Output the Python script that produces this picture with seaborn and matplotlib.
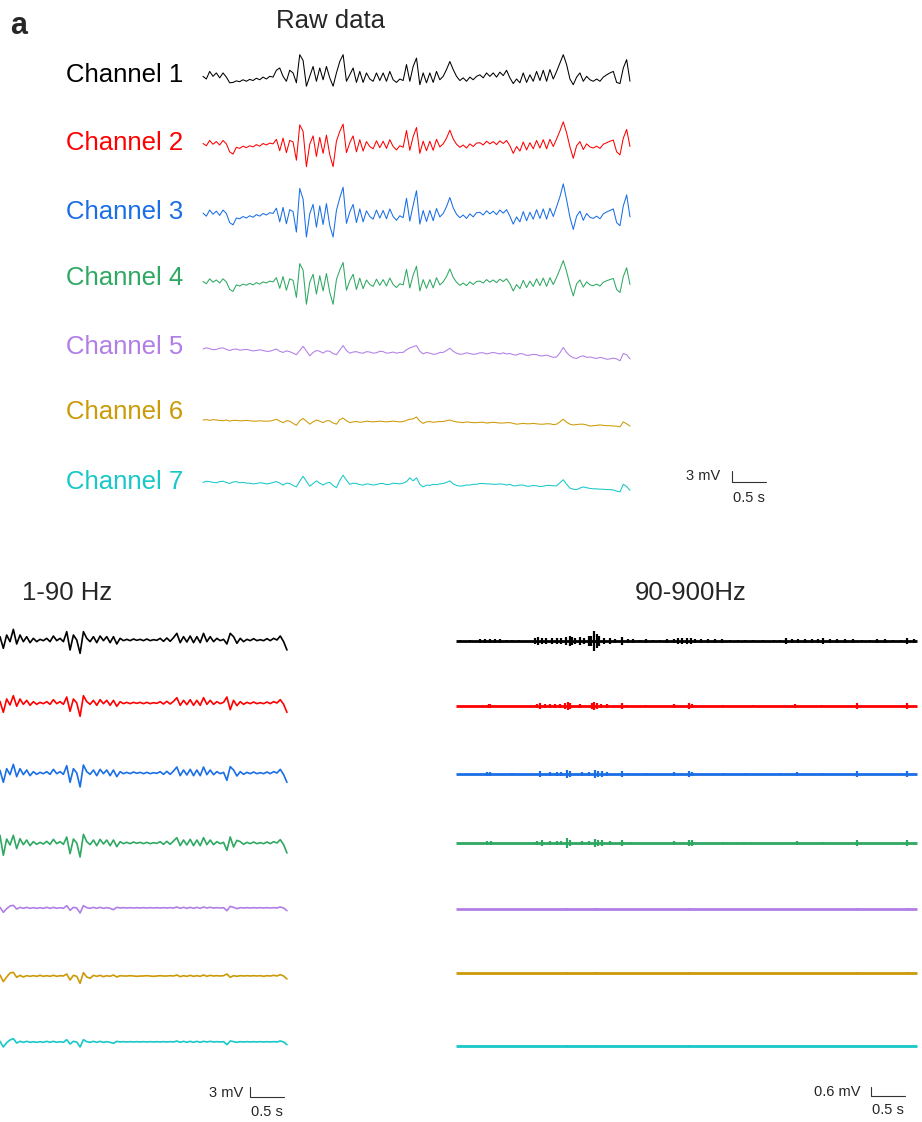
import matplotlib
matplotlib.use("Agg")
import matplotlib.pyplot as plt
import seaborn as sns
import numpy as np
import pandas as pd

W, H = 922, 1122

channels = ["Channel 1", "Channel 2", "Channel 3", "Channel 4",
            "Channel 5", "Channel 6", "Channel 7"]
colors = ["#000000", "#ff0000", "#1a6ee6", "#2ea862",
          "#b07ee6", "#cc9a06", "#18c8c8"]

# ---- raw data (mV), evenly sampled over the record ----
raw_duration = 6.27
raw_ch1 = [0.7, 0, 2.0, 0.7, 1.6, 0.3, 1.6, 0.5, -1.0, -0.9,
           -0.5, -0.7, -0.2, -0.6, -0.1, -0.4, 0.2, -0.2, 0.5, 0,
           0.7, 0.5, 2.3, 2.9, 0.7, -0.6, 2.3, 1.6, -1.0, 6.4,
           4.9, -1.9, 0.7, 3.3, -0.6, 2.9, -0.2, 3.3, 0.3, -1.9,
           1.6, 4.6, 6.4, -0.6, 1.1, 2.9, -0.9, 2.0, -0.9, 1.6,
           0, -0.6, 1.6, -0.4, 1.6, -0.6, 2.0, -0.2, -0.9, 0,
           -0.4, 3.8, -0.6, 3.3, 5.5, -1.5, 1.6, -1.0, 1.6, -0.9,
           2.0, -0.2, 0.7, 2.5, 4.6, 2.5, 0.7, -0.4, 0.3, -0.6,
           0.5, -0.2, 0.7, 1.1, 0.3, 1.6, 0.7, 1.6, 0.5, 1.8,
           0.9, 2.3, 0.3, -1.2, 0, -1.0, 1.6, -0.9, 1.1, -0.6,
           2.0, -0.4, 2.3, -0.6, 2.5, 0, 2.0, 4.2, 6.4, 3.8,
           0, -1.5, 0.5, 1.6, -0.6, 0.7, -0.2, -0.6, 0, -0.6,
           0.5, 1.1, 1.6, 2.0, -0.9, -1.2, 2.9, 5.1, -0.6]
raw_ch2 = [0.4, -0.2, 1.2, 0.2, 0.9, 0, 1.2, 0.3, -1.8, -2.4,
           -0.6, -0.9, -0.3, -0.7, -0.2, -0.5, 0.1, -0.3, 0.4, 0,
           0.5, 0.3, 1.5, -1.5, 1.8, -2.0, 1.2, 0.8, -4.0, 5.3,
           3.6, -5.7, 0.2, 2.4, -3.0, 2.0, -2.2, 2.6, -2.6, -5.7,
           1.0, 3.6, 5.5, -2.0, 0.6, 2.4, -1.8, 1.4, -1.6, 0.9,
           -0.4, -1.0, 1.1, -0.7, 1.0, -0.9, 1.4, -0.4, -1.3, -0.2,
           -0.6, 3.8, -1.4, 2.2, 4.6, -2.2, 1.0, -1.5, 1.0, -1.4,
           1.5, -0.5, 0.3, 1.8, 3.9, 1.6, 0.2, -0.6, 0, -0.8,
           0.3, -0.4, 0.5, 0.6, 0, 1.0, 0.3, 0.9, 0.1, 1.1,
           0.4, 1.2, -0.2, -2.2, -0.4, -1.6, 0.8, -1.3, 0.6, -1.0,
           1.2, -0.8, 1.4, -1.0, 1.5, -0.4, 1.6, 3.7, 6.1, 3.2,
           -0.5, -3.5, -0.2, 0.9, -1.2, 0.3, -0.5, -0.8, -0.3, -0.9,
           0.2, 0.6, 1.0, 1.3, -1.8, -2.6, 1.8, 4.1, -0.4]
raw_ch3 = [0.5, -0.3, 1.3, 0.2, 1.0, -0.1, 1.3, 0.4, -2.0, -2.6,
           -0.8, -1.0, -0.4, -0.8, -0.2, -0.6, 0.1, -0.3, 0.4, 0,
           0.6, 0.4, 1.8, -1.8, 2.0, -2.3, 1.4, 0.9, -4.5, 7.0,
           4.2, -5.8, 0.3, 2.8, -3.2, 2.4, -2.5, 3.0, -2.8, -5.8,
           1.2, 4.5, 7.3, -2.2, 0.8, 2.8, -2.0, 1.6, -1.8, 1.1,
           -0.4, -1.1, 1.3, -0.8, 1.2, -1.0, 1.6, -0.4, -1.4, -0.2,
           -0.7, 4.4, -1.6, 2.6, 6.4, -2.4, 1.2, -1.7, 1.2, -1.5,
           1.7, -0.5, 0.4, 2.2, 4.6, 1.9, 0.2, -0.7, 0, -0.9,
           0.3, -0.5, 0.6, 0.7, 0, 1.1, 0.3, 1.0, 0.1, 1.3,
           0.5, 1.4, -0.3, -2.4, -0.5, -1.8, 0.9, -1.5, 0.7, -1.1,
           1.4, -0.9, 1.6, -1.1, 1.8, -0.4, 2.2, 4.8, 8.2, 4.0,
           -0.6, -3.8, -0.3, 1.0, -1.4, 0.4, -0.6, -0.9, -0.3, -1.0,
           0.3, 0.8, 1.2, 1.6, -2.0, -2.8, 2.4, 5.3, -0.5]
raw_ch4 = [0.4, -0.2, 1.1, 0.2, 0.8, 0, 1.1, 0.3, -1.7, -2.2,
           -0.5, -0.8, -0.3, -0.6, -0.1, -0.5, 0.1, -0.3, 0.3, 0,
           0.5, 0.3, 1.4, -1.4, 1.7, -1.9, 1.1, 0.7, -3.8, 5.1,
           3.4, -5.6, 0.2, 2.3, -2.9, 1.9, -2.1, 2.5, -2.5, -5.6,
           0.9, 3.4, 5.4, -1.9, 0.6, 2.3, -1.7, 1.3, -1.5, 0.8,
           -0.4, -0.9, 1.0, -0.6, 0.9, -0.8, 1.3, -0.4, -1.2, -0.2,
           -0.5, 3.6, -1.3, 2.1, 4.4, -2.1, 0.9, -1.4, 0.9, -1.3,
           1.4, -0.5, 0.3, 1.7, 3.7, 1.5, 0.2, -0.6, 0, -0.7,
           0.3, -0.4, 0.4, 0.5, 0, 0.9, 0.2, 0.8, 0.1, 1.0,
           0.4, 1.1, -0.2, -2.1, -0.4, -1.5, 0.7, -1.2, 0.5, -0.9,
           1.1, -0.7, 1.3, -0.9, 1.4, -0.4, 1.5, 3.6, 5.9, 3.0,
           -0.5, -3.4, -0.2, 0.8, -1.1, 0.3, -0.5, -0.7, -0.3, -0.8,
           0.2, 0.6, 0.9, 1.2, -1.7, -2.5, 1.7, 4.0, -0.4]
raw_ch5 = [0, 0.3, 0.1, -0.2, -0.1, 0.2, 0.3, -0.1, -0.4, -0.1,
           0, -0.3, -0.2, -0.1, -0.3, -0.5, -0.4, -0.2, -0.4, -0.6,
           -0.6, -0.3, 0, -0.6, -0.9, -0.5, -0.7, -1.1, -1.5, -0.4,
           0.7, -0.5, -1.8, -0.9, -0.4, -0.6, -1.1, -0.5, -0.6, -1.2,
           -1.5, -0.3, 0.9, -0.4, -1.1, -0.8, -0.7, -1.0, -1.1, -0.7,
           -0.8, -1.1, -1.0, -0.6, -0.7, -1.1, -1.0, -0.8, -1.1, -0.9,
           -0.9, -0.2, 0.3, 0.6, 0.9, -0.6, -1.3, -0.9, -1.1, -1.4,
           -1.3, -0.9, -0.9, -0.4, 0.2, -0.6, -1.1, -1.4, -1.3, -1.0,
           -1.2, -1.4, -1.3, -1.0, -1.0, -1.3, -1.1, -0.9, -1.1, -1.3,
           -1.0, -1.3, -1.2, -1.5, -1.6, -1.2, -1.3, -1.7, -1.6, -1.4,
           -1.5, -1.8, -1.8, -1.6, -1.9, -2.2, -2.1, -1.0, 0.4, -0.9,
           -1.8, -2.3, -2.5, -2.0, -1.8, -2.2, -2.1, -2.3, -2.5, -2.2,
           -2.4, -2.7, -2.6, -2.4, -2.6, -3.1, -1.2, -1.5, -2.6]
raw_ch6 = [0, 0.1, -0.1, 0.1, 0, -0.1, -0.2, 0, -0.3, -0.1,
           -0.1, -0.2, -0.2, -0.1, -0.2, -0.3, -0.3, -0.2, -0.3, -0.3,
           -0.3, -0.1, 0.2, -0.3, -0.7, -0.2, -0.3, -0.9, -1.4, -0.2,
           0.4, -0.3, -1.1, -0.5, 0, -0.3, -0.7, -0.2, -0.2, -0.8,
           -1.1, 0.1, 0.5, -0.2, -0.7, -0.5, -0.4, -0.6, -0.5, -0.3,
           -0.4, -0.5, -0.4, -0.3, -0.4, -0.5, -0.4, -0.3, -0.4, -0.5,
           -0.4, -0.1, 0.2, 0.3, 0.8, -0.3, -0.9, -0.5, -0.4, -0.6,
           -0.5, -0.4, -0.4, -0.2, 0, -0.3, -0.5, -0.6, -0.7, -0.5,
           -0.6, -0.7, -0.7, -0.6, -0.6, -0.8, -0.7, -0.6, -0.7, -0.8,
           -0.8, -0.7, -0.7, -0.9, -1.1, -1.0, -0.9, -1.0, -1.0, -0.9,
           -1.0, -1.1, -1.1, -1.0, -1.0, -1.2, -1.1, -0.5, 0.2, -0.6,
           -1.1, -1.3, -1.2, -1.1, -1.1, -1.3, -1.6, -1.5, -1.4, -1.3,
           -1.4, -1.5, -1.5, -1.6, -1.6, -1.8, -0.5, -1.0, -1.6]
raw_ch7 = [-0.1, 0.2, 0.1, -0.1, -0.2, 0.1, 0.2, -0.1, -0.4, 0,
           0.1, -0.2, -0.1, -0.3, -0.3, -0.5, -0.4, -0.2, -0.3, -0.5,
           -0.4, -0.1, 0.1, -0.3, -0.8, -0.3, -0.4, -0.9, -1.3, 0.2,
           1.5, 0.2, -1.1, -0.4, 0.3, -0.3, -0.8, -0.3, -0.1, -0.9,
           -1.5, 0.4, 1.8, 0.5, -0.6, -0.3, -0.4, -0.7, -0.8, -0.5,
           -0.6, -0.8, -0.7, -0.4, -0.4, -0.7, -0.6, -0.3, -0.4, -0.5,
           -0.3, 0.1, 1.1, 0.3, 1.1, -0.6, -1.3, -0.8, -0.9, -0.6,
           -0.7, -0.5, -0.4, -0.1, 0.3, -0.5, -0.9, -1.1, -1.0, -0.8,
           -0.8, -0.6, -0.6, -0.4, -0.4, -0.5, -0.5, -0.6, -0.6, -0.5,
           -0.6, -0.8, -0.6, -1.0, -1.0, -0.8, -0.8, -1.1, -1.1, -0.9,
           -1.0, -1.2, -1.1, -0.9, -0.9, -1.0, -1.0, -0.2, 0.6, -0.6,
           -1.6, -1.9, -2.0, -1.6, -1.3, -1.5, -1.7, -1.8, -1.8, -1.9,
           -1.9, -2.0, -2.0, -2.1, -2.4, -2.6, -0.6, -1.2, -2.2]

# ---- 1-90 Hz band (mV) ----
lf_duration = 4.22
lf_ch1 = [1.0, -2.5, 1.5, -0.5, 3.2, -1.2, 1.5, -0.5, 1.0, -0.8,
          0.5, -0.5, 0.2, -0.2, 0.5, -0.5, 1.2, -0.2, 0.5, -0.5,
          2.5, -3.0, 1.5, 0, -4.0, 2.5, 0.5, -0.5, 1.0, -0.8,
          1.2, -0.2, 1.0, -0.8, 1.0, -1.2, 0.5, -0.2, 0.2, -0.2,
          0.3, -0.1, 0.2, -0.2, 0.3, -0.2, 0.1, -0.1, 0.5, -0.4,
          0.6, -0.4, 0.7, 2.0, -0.8, 1.0, -0.6, 1.2, -0.8, 1.0,
          -0.8, 2.0, -0.5, 1.0, -0.5, 0.5, -0.2, 0.2, -1.2, 2.0,
          1.0, -1.0, 0.5, -0.5, 0.2, -0.2, 0.4, -0.2, 0.1, -0.2,
          0.4, -0.2, 0.5, 0, 1.2, -0.5, -3.0]
lf_ch2 = [0.5, -2.8, 1.2, -0.6, 2.2, -1.0, 1.2, -0.4, 0.8, -0.7,
          0.4, -0.4, 0.2, -0.2, 0.4, -0.4, 1.0, -0.2, 0.4, -0.4,
          1.8, -2.5, 1.2, 0, -4.0, 2.2, 0.4, -0.4, 0.8, -0.7,
          1.0, -0.2, 0.8, -0.7, 0.8, -1.0, 0.4, -0.2, 0.2, -0.2,
          0.2, -0.1, 0.2, -0.2, 0.2, -0.2, 0.1, -0.1, 0.4, -0.3,
          0.5, -0.3, 0.5, 1.6, -0.7, 0.8, -0.5, 1.0, -0.7, 0.8,
          -0.7, 1.6, -0.4, 0.8, -0.4, 0.4, -0.2, 0.2, 1.8, -2.0,
          0.8, -0.8, 0.4, -0.4, 0.2, -0.2, 0.3, -0.2, 0.1, -0.2,
          0.3, -0.2, 0.4, 0, 1.0, -0.4, -2.8]
lf_ch3 = [0.8, -2.8, 1.3, -0.5, 2.6, -1.1, 1.3, -0.5, 0.9, -0.8,
          0.4, -0.4, 0.2, -0.2, 0.4, -0.4, 1.1, -0.2, 0.4, -0.4,
          2.2, -2.8, 1.3, 0, -4.2, 2.4, 0.4, -0.4, 0.9, -0.8,
          1.1, -0.2, 0.9, -0.8, 0.9, -1.1, 0.4, -0.2, 0.2, -0.2,
          0.3, -0.1, 0.2, -0.2, 0.2, -0.2, 0.1, -0.1, 0.4, -0.4,
          0.5, -0.4, 0.6, 1.8, -0.8, 0.9, -0.6, 1.1, -0.8, 0.9,
          -0.8, 1.8, -0.5, 0.9, -0.5, 0.4, -0.2, 0.2, -2.2, 1.9,
          0.9, -0.9, 0.4, -0.4, 0.2, -0.2, 0.3, -0.2, 0.1, -0.2,
          0.3, -0.2, 0.4, 0, 1.1, -0.5, -2.8]
lf_ch4 = [2.3, -3.7, 1.2, -0.6, 2.3, -1.7, 1.3, -0.5, 0.9, -0.8,
          0.4, -0.4, 0.2, -0.3, 0.5, -0.4, 1.1, -0.2, 0.4, -0.4,
          1.8, -3.2, 1.2, 0, -4.2, 2.6, 0.4, -0.5, 0.9, -0.8,
          1.1, -0.3, 0.9, -0.8, 0.9, -1.1, 0.4, -0.2, 0.2, -0.2,
          0.3, -0.1, 0.2, -0.2, 0.2, -0.2, 0.1, -0.1, 0.4, -0.4,
          0.5, -0.4, 0.6, 1.6, -0.8, 0.9, -0.6, 1.1, -0.8, 0.9,
          -0.8, 1.6, -0.5, 0.9, -0.5, 0.4, -0.2, 0.2, -2.2, 1.8,
          -1.2, 0.8, 0.4, -0.4, 0.2, -0.2, 0.3, -0.2, 0.1, -0.2,
          0.3, -0.2, 0.4, 0, 1.0, -0.5, -3.0]
lf_ch5 = [0.2, -1.3, -0.2, 0.6, 0.8, -0.3, 0.2, -0.1, 0.2, -0.1,
          0.1, -0.1, 0.1, -0.1, 0.2, -0.1, 0.2, -0.1, 0.1, -0.1,
          0.7, -0.7, 0.2, 0, -1.5, 0.7, 0.1, -0.1, 0.2, -0.1,
          0.2, -0.1, 0.1, -0.1, -0.5, 0.2, 0, 0.1, 0, 0.1,
          0, 0.1, 0, 0.1, 0, 0.1, 0, 0.1, 0, 0.1,
          0, 0.1, 0, 0.3, -0.1, 0.2, -0.1, 0.2, -0.1, 0.2,
          -0.1, 0.3, 0, 0.2, 0, 0.1, 0, 0.1, -0.8, 0.5,
          0.2, -0.2, 0.1, 0, 0.1, 0, 0.1, 0, 0.1, 0,
          0.1, 0, 0.1, 0, 0.3, 0, -0.8]
lf_ch6 = [0.3, -1.7, -0.3, 0.9, 1.1, -0.4, 0.2, -0.3, 0.1, -0.1,
          0.1, -0.1, 0.2, -0.1, 0.1, -0.1, 0.2, -0.1, 0.1, 0,
          0.6, -1.2, 0.2, -0.1, -2.2, 1.0, -0.3, -0.7, 0.2, -0.1,
          0.2, -0.2, 0.1, -0.1, 0.3, -0.3, 0.1, 0, 0, 0.1,
          0, -0.1, 0, 0, 0.1, 0, -0.1, 0, 0.1, 0,
          0, 0.1, 0, 0.3, -0.2, 0.1, -0.1, 0.2, -0.1, 0.1,
          -0.1, 0.3, -0.1, 0.2, 0, 0.1, 0, 0.1, 0.6, -0.4,
          0.1, -0.1, 0.1, 0, 0.1, 0, 0.1, 0, 0.1, -0.1,
          0.1, 0, 0.2, 0, 0.4, 0, -0.9]
lf_ch7 = [0.2, -1.5, -0.2, 0.6, 1.0, -0.3, 0.2, -0.1, 0.2, -0.1,
          0.1, -0.1, 0.1, -0.1, 0.2, -0.1, 0.2, -0.1, 0.1, -0.1,
          0.7, -0.6, 0.2, 0, -1.5, 0.7, 0.1, -0.1, 0.2, -0.1,
          0.2, -0.1, 0.1, -0.1, -0.4, 0.2, 0, 0.1, 0, 0.1,
          0, 0.1, 0, 0.1, 0, 0.1, 0, 0.1, 0, 0.1,
          0, 0.1, 0, 0.3, -0.1, 0.2, -0.1, 0.2, -0.1, 0.2,
          -0.1, 0.2, 0, 0.2, 0, 0.1, 0, 0.1, -0.8, 0.3,
          0.1, -0.1, 0.1, 0, 0.1, 0, 0.1, 0, 0.1, 0,
          0.1, 0, 0.1, 0, 0.3, 0, -0.8]

# ---- 90-900 Hz band: burst times (s) and half amplitudes (mV) ----
hf_duration = 6.78
hf_ch1_t = [0.06, 0.21, 0.35, 0.43, 0.50, 0.57, 0.65, 0.75, 0.82, 0.92,
            1.16, 1.21, 1.26, 1.33, 1.41, 1.48, 1.55, 1.62, 1.67, 1.70,
            1.75, 1.82, 1.88, 1.95, 1.98, 2.03, 2.07, 2.11, 2.17, 2.26,
            2.34, 2.44, 2.53, 2.61, 2.71, 2.80, 2.90, 3.00, 3.10, 3.20,
            3.27, 3.33, 3.39, 3.45, 3.51, 3.61, 3.71, 3.81, 3.91, 4.03,
            4.15, 4.25, 4.37, 4.52, 4.67, 4.76, 4.86, 4.94, 5.03, 5.13,
            5.23, 5.33, 5.40, 5.50, 5.60, 5.72, 5.84, 5.97, 6.09, 6.19,
            6.31, 6.43, 6.55, 6.63, 6.73]
hf_ch1_a = [0.07, 0.07, 0.11, 0.13, 0.11, 0.11, 0.13, 0.09, 0.09, 0.07,
            0.22, 0.27, 0.18, 0.22, 0.20, 0.22, 0.20, 0.27, 0.31, 0.27,
            0.22, 0.27, 0.22, 0.36, 0.31, 0.67, 0.44, 0.31, 0.22, 0.20,
            0.16, 0.27, 0.16, 0.11, 0.09, 0.11, 0.09, 0.09, 0.11, 0.13,
            0.18, 0.20, 0.22, 0.18, 0.16, 0.13, 0.11, 0.11, 0.11, 0.09,
            0.09, 0.09, 0.07, 0.07, 0.09, 0.09, 0.18, 0.16, 0.13, 0.11,
            0.11, 0.11, 0.18, 0.13, 0.11, 0.11, 0.11, 0.09, 0.09, 0.11,
            0.13, 0.09, 0.09, 0.18, 0.11]
hf_ch2_t = [0.48, 0.50, 1.19, 1.24, 1.31, 1.38, 1.46, 1.53, 1.60, 1.64,
            1.68, 1.82, 2.00, 2.03, 2.08, 2.13, 2.22, 2.44, 2.51, 2.80,
            3.20, 3.42, 3.47, 3.93, 4.37, 4.99, 5.38, 5.89, 6.63]
hf_ch2_a = [0.13, 0.11, 0.13, 0.18, 0.13, 0.13, 0.13, 0.13, 0.18, 0.27,
            0.18, 0.13, 0.18, 0.27, 0.22, 0.16, 0.13, 0.22, 0.09, 0.07,
            0.11, 0.22, 0.13, 0.07, 0.07, 0.11, 0.09, 0.18, 0.18]
hf_ch3_t = [0.45, 0.50, 0.82, 1.24, 1.38, 1.48, 1.55, 1.63, 1.68, 1.85,
            1.96, 2.04, 2.09, 2.14, 2.22, 2.44, 2.53, 2.80, 3.20, 3.42,
            3.47, 3.93, 4.27, 4.76, 5.01, 5.38, 5.89, 6.63]
hf_ch3_a = [0.13, 0.11, 0.09, 0.18, 0.13, 0.13, 0.13, 0.27, 0.18, 0.13,
            0.13, 0.27, 0.22, 0.18, 0.13, 0.18, 0.09, 0.07, 0.11, 0.22,
            0.13, 0.09, 0.07, 0.07, 0.11, 0.09, 0.18, 0.18]
hf_ch4_t = [0.45, 0.52, 1.19, 1.26, 1.38, 1.48, 1.55, 1.63, 1.68, 1.85,
            1.95, 2.04, 2.09, 2.14, 2.26, 2.44, 2.58, 3.20, 3.42, 3.47,
            3.93, 4.23, 5.01, 5.40, 5.89, 6.63]
hf_ch4_a = [0.11, 0.11, 0.13, 0.18, 0.13, 0.13, 0.13, 0.31, 0.18, 0.13,
            0.13, 0.27, 0.22, 0.18, 0.13, 0.22, 0.09, 0.13, 0.22, 0.18,
            0.07, 0.07, 0.11, 0.09, 0.18, 0.18]
hf_small_t = [1.63, 2.04, 3.42, 5.89, 6.63]
hf_ch5_a = [0.05, 0.05, 0.05, 0.04, 0.04]
hf_ch6_a = [0.05, 0.05, 0.04, 0.04, 0.04]
hf_ch7_a = [0.04, 0.04, 0.04, 0.03, 0.03]

raw_series = [raw_ch1, raw_ch2, raw_ch3, raw_ch4, raw_ch5, raw_ch6, raw_ch7]
lf_series = [lf_ch1, lf_ch2, lf_ch3, lf_ch4, lf_ch5, lf_ch6, lf_ch7]
hf_series = [(hf_ch1_t, hf_ch1_a), (hf_ch2_t, hf_ch2_a), (hf_ch3_t, hf_ch3_a),
             (hf_ch4_t, hf_ch4_a), (hf_small_t, hf_ch5_a),
             (hf_small_t, hf_ch6_a), (hf_small_t, hf_ch7_a)]

sns.set_style("white")
plt.rcParams["font.family"] = ["Liberation Sans", "DejaVu Sans"]

fig = plt.figure(figsize=(W / 100, H / 100), dpi=100)


def make_panel(left, top, width, height, t0_px, px_per_s, px_per_mv):
    """Axes placed in pixel units; data in seconds and mV."""
    ax = fig.add_axes([left / W, 1 - (top + height) / H, width / W, height / H])
    ax.set_xlim((left - t0_px) / px_per_s, (left + width - t0_px) / px_per_s)
    ax.set_ylim(-(top + height) / px_per_mv, -top / px_per_mv)
    ax.axis("off")
    return ax, (lambda px: (px - t0_px) / px_per_s), (lambda py: -py / px_per_mv)


def draw_traces(ax, to_y, series, duration, base_px, lw):
    frames = []
    for name, vals, b in zip(channels, series, base_px):
        frames.append(pd.DataFrame({
            "t": np.linspace(0, duration, len(vals)),
            "mv": np.asarray(vals, dtype=float) + to_y(b),
            "channel": name}))
    df = pd.concat(frames, ignore_index=True)
    sns.lineplot(data=df, x="t", y="mv", hue="channel", hue_order=channels,
                 palette=colors, estimator=None, sort=False, legend=False,
                 linewidth=lw, ax=ax)


def scale_bar(ax, to_x, to_y, x_px, y_px, mv, label_mv, label_px, fs=10.5):
    x0, y0 = to_x(x_px), to_y(y_px)
    ax.plot([x0, x0, x0 + 0.5], [y0 + mv, y0, y0], color="#333333", lw=0.8)
    ax.text(to_x(label_px[0]), to_y(label_px[1]), label_mv, ha="right",
            va="center", fontsize=fs)
    ax.text(x0 + 0.25, to_y(label_px[2]), "0.5 s", ha="center", va="center",
            fontsize=fs)


# ---- raw data panel ----
ax_raw, rx, ry = make_panel(0, 0, W, 530, 203, 68.1, 3.8)
raw_base = [79, 145, 215, 283, 349, 420, 482]
raw_label_y = [75, 143, 212, 278, 347, 412, 482]
draw_traces(ax_raw, ry, raw_series, raw_duration, raw_base, 0.75)
for name, col, ly in zip(channels, colors, raw_label_y):
    ax_raw.text(rx(183), ry(ly), name, color=col, ha="right", va="center",
                fontsize=18.5)
scale_bar(ax_raw, rx, ry, 732, 482, 3, "3 mV", (720, 476, 498))

# ---- 1-90 Hz panel ----
ax_lf, lx, ly_ = make_panel(0, 540, 440, H - 540, 0, 68.0, 3.33)
lf_base = [640, 703, 773, 843, 908, 976, 1042]
draw_traces(ax_lf, ly_, lf_series, lf_duration, lf_base, 1.2)
scale_bar(ax_lf, lx, ly_, 250, 1097, 3, "3 mV", (243, 1093, 1112))

# ---- 90-900 Hz panel ----
ax_hf, hx, hy = make_panel(440, 540, W - 440, H - 540, 456, 68.0, 15.0)
hf_base = [641, 706, 774, 843, 909, 973, 1046]
for (bt, ba), col, b in zip(hf_series, colors, hf_base):
    y0 = hy(b)
    ax_hf.hlines(y0, 0, hf_duration, color=col, lw=2.0)
    ba = np.asarray(ba)
    ax_hf.vlines(bt, y0 - ba, y0 + ba, color=col, lw=1.6)
scale_bar(ax_hf, hx, hy, 871, 1096, 0.6, "0.6 mV", (860, 1092, 1110))

# ---- titles ----
fig.text(10 / W, 1 - 26 / H, "a", fontsize=22, fontweight="bold",
         ha="left", va="center")
fig.text(330 / W, 1 - 21 / H, "Raw data", fontsize=18.5, ha="center", va="center")
fig.text(22 / W, 1 - 593 / H, "1-90 Hz", fontsize=18.5, ha="left", va="center")
fig.text(691 / W, 1 - 593 / H, "90-900Hz", fontsize=18.5, ha="center", va="center")

fig.savefig("out.png", dpi=100)
